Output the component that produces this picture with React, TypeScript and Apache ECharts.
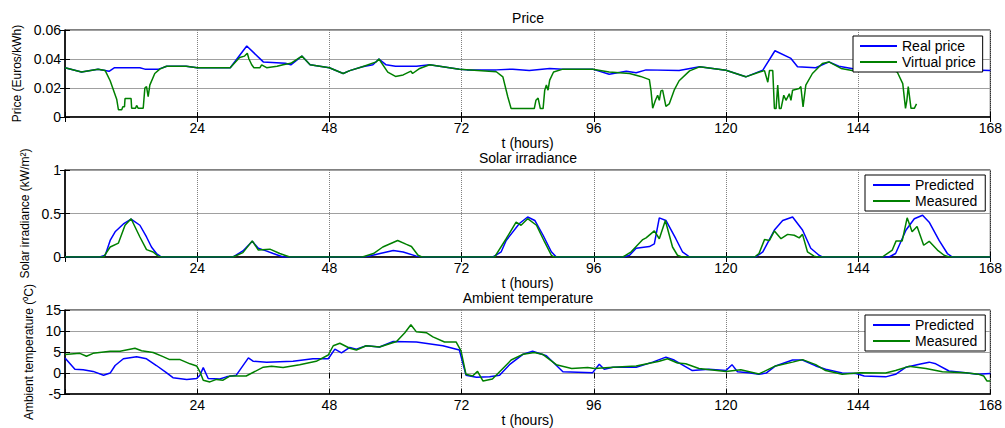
import React, { useEffect, useRef } from 'react';
import * as echarts from 'echarts';

const FONT = '"Liberation Sans", Arial, Helvetica, sans-serif';

const hourTicks = [0, 24, 48, 72, 96, 120, 144, 168];
const panelTitles = ['Price', 'Solar irradiance', 'Ambient temperature'];
const yNames = ['Price (Euros/kWh)', 'Solar irradiance (kW/m\u00b2)', 'Ambient temperature (\u2070C)'];
const yRanges = [[0, 0.06, 0.02], [0, 1, 0.5], [-5, 15, 5]];
const legend1 = ['Real price', 'Virtual price'];
const legend2 = ['Predicted', 'Measured'];

const priceReal = [[0,0.034],[3,0.031],[6,0.033],[8,0.0315],[9,0.034],[13.6,0.034],[14.5,0.033],[17,0.033],[18.5,0.035],[22,0.035],[24,0.034],[30,0.034],[33,0.049],[36,0.038],[40,0.037],[41,0.036],[43,0.042],[44.5,0.036],[48,0.034],[50.5,0.030],[51.7,0.032],[54,0.0346],[55.9,0.036],[57,0.040],[58.3,0.036],[60,0.035],[63.8,0.035],[66.2,0.036],[71.6,0.033],[73,0.0325],[78.3,0.0325],[81.3,0.033],[84.3,0.032],[88,0.0335],[90.4,0.033],[95.8,0.033],[98.8,0.0295],[101.9,0.0316],[103.7,0.0305],[105.5,0.0325],[111.5,0.032],[115.2,0.0346],[120,0.0323],[123.6,0.0277],[126.7,0.0323],[128.9,0.0457],[131.8,0.0404],[133,0.0346],[136.3,0.034],[138.7,0.038],[140.5,0.035],[143.6,0.033],[150,0.033],[160,0.033],[168,0.032]];

const priceVirtual = [[0,0.034],[3,0.031],[6,0.033],[7.3,0.032],[8.2,0.025],[9.4,0.012],[9.7,0.005],[10.3,0.005],[10.5,0.007],[10.8,0.007],[10.9,0.0127],[12,0.0127],[12.1,0.006],[12.8,0.006],[13,0.008],[13.3,0.006],[14.2,0.006],[14.5,0.020],[14.8,0.021],[15.1,0.014],[15.4,0.022],[16.3,0.030],[17.2,0.033],[18.4,0.035],[22,0.035],[24,0.034],[30,0.034],[31.7,0.041],[32.6,0.042],[33.1,0.044],[33.4,0.040],[33.9,0.036],[34.3,0.034],[35.4,0.034],[35.7,0.036],[36.6,0.034],[38.5,0.035],[39.6,0.036],[41,0.037],[43,0.042],[44.5,0.036],[48,0.034],[50.5,0.030],[51.7,0.032],[54,0.0346],[56.5,0.038],[57,0.040],[58.6,0.031],[60,0.028],[61.4,0.029],[62.8,0.0316],[63.1,0.030],[64.4,0.0335],[66.2,0.036],[71.6,0.033],[78.3,0.0312],[79.5,0.0277],[80.4,0.0138],[81,0.0058],[85.2,0.0058],[85.5,0.0115],[85.9,0.013],[86.3,0.0058],[86.8,0.0058],[87.1,0.0185],[87.4,0.022],[87.7,0.0185],[88,0.0254],[88.7,0.031],[90.4,0.033],[95.8,0.033],[98.8,0.031],[102.5,0.030],[104.5,0.028],[106.1,0.0258],[106.4,0.018],[106.7,0.006],[107.2,0.0115],[107.6,0.015],[107.9,0.0115],[108.2,0.018],[108.5,0.0185],[108.8,0.013],[109.1,0.0074],[109.7,0.009],[110.6,0.0185],[111.5,0.025],[113.4,0.0318],[115.2,0.0346],[120,0.0323],[123.6,0.0277],[126.1,0.031],[127,0.032],[127.6,0.024],[127.9,0.032],[128.5,0.032],[128.8,0.0058],[129.1,0.0058],[129.4,0.022],[129.7,0.0058],[130,0.0058],[130.5,0.015],[130.9,0.0115],[131.5,0.016],[131.8,0.0115],[132.1,0.0185],[133.3,0.0196],[133.6,0.021],[134,0.007],[134.5,0.022],[135.7,0.030],[137.5,0.0369],[138.7,0.038],[140.9,0.0335],[142.9,0.032],[146,0.033],[150.5,0.032],[151.1,0.031],[152.1,0.023],[152.6,0.006],[152.85,0.0115],[153.1,0.021],[153.6,0.006],[154.2,0.006],[154.6,0.009]];

const solarPredicted = [[0,0],[6.3,0],[7.3,0.02],[8.2,0.19],[9.1,0.29],[10.6,0.38],[12,0.435],[13.6,0.365],[14.8,0.23],[15.7,0.115],[16.6,0.04],[17.5,0],
[30.5,0],[32.3,0.07],[34,0.18],[35.1,0.1],[36.5,0.07],[37.8,0.04],[39.6,0],
[54.1,0],[55.5,0.015],[57.2,0.04],[59.6,0.075],[61.4,0.058],[63.8,0.01],[65,0],
[77.7,0],[79.2,0.06],[80.1,0.19],[82.5,0.385],[84,0.46],[85.3,0.42],[86.8,0.25],[88.3,0.06],[89.2,0],
[101.5,0],[102.5,0.02],[103.7,0.1],[106.1,0.12],[107,0.15],[107.9,0.45],[109.1,0.42],[110.9,0.21],[112.1,0.06],[113.4,0],
[125.4,0],[126.7,0.06],[128.8,0.31],[130.3,0.42],[132.1,0.46],[133.9,0.31],[135.4,0.1],[136.9,0.02],[137.5,0],
[149.6,0],[150.8,0.04],[152.7,0.31],[154.2,0.44],[155.7,0.48],[156.9,0.40],[158.7,0.19],[160.2,0.04],[161.1,0],[168,0]];

const solarMeasured = [[0,0],[7,0],[8.2,0.115],[9.7,0.16],[10.9,0.365],[12,0.44],[13.6,0.23],[14.8,0.085],[16,0.058],[16.9,0.01],[17.5,0],
[30.5,0],[32.3,0.05],[34,0.185],[35.1,0.08],[37.2,0.09],[39,0.04],[40.8,0],
[54,0],[56,0.04],[57.7,0.115],[60.4,0.19],[62,0.145],[62.9,0.12],[64.1,0.02],[64.8,0],
[78,0],[80.1,0.21],[81.9,0.40],[82.8,0.365],[84,0.44],[85.6,0.365],[87.1,0.17],[88.3,0.02],[88.8,0],
[101.3,0],[102.8,0.06],[104.9,0.2],[105.5,0.22],[107,0.3],[107.9,0.21],[109,0.42],[110.3,0.115],[111.2,0.02],[112,0],
[125.2,0],[126,0.04],[127,0.2],[127.9,0.19],[128.8,0.3],[130,0.21],[131.2,0.26],[132.4,0.25],[133.3,0.22],[133.9,0.26],[134.8,0.06],[136,0.01],[136.6,0],
[148.4,0],[150.2,0.08],[150.9,0.185],[152,0.185],[152.9,0.45],[153.8,0.29],[154.7,0.35],[155.9,0.135],[156.9,0.18],[158.4,0.08],[159.6,0.02],[160.5,0],[168,0]];

const tempPredicted = [[0,3.6],[1.8,0.9],[3.3,0.8],[5.1,0.4],[7,-0.5],[8.2,0],[9.1,1.8],[10.6,3.4],[13,3.9],[14.8,3.4],[16.6,1.8],[18.4,0.1],[19.6,-1.1],[22.1,-1.5],[23.9,-1.3],[24.5,-0.5],[25.1,1.3],[26,-1.3],[28.1,-1.4],[29.3,-0.9],[31.1,-0.5],[33.3,3.6],[34.2,2.8],[36.6,2.6],[41.4,2.8],[45,3.4],[47.8,3.4],[49,5.7],[50.2,4.8],[51.7,6.1],[52.9,5.7],[54.7,6.5],[57.1,6.2],[59.6,7.5],[63.8,7.4],[68.6,6.5],[71.6,5.5],[72.8,-0.5],[74.7,-1.0],[77.1,-0.9],[78.9,-0.5],[80.7,2.0],[83.2,4.5],[84.9,5.2],[87.4,4.1],[90.4,0.3],[95.8,0.1],[97,2.1],[97.9,0.9],[99.5,1.4],[103.7,1.4],[106.7,2.6],[109.1,3.8],[110.6,3.1],[113.9,0.6],[116.9,0.9],[120,0.6],[121.1,2.0],[122.1,0.3],[124.1,0.1],[126,-0.3],[127.3,0],[129,1.7],[132.1,3.1],[133.9,3.1],[136.3,1.7],[138.1,0.9],[141.1,0],[143.6,-0.1],[145.1,-0.7],[149,-0.9],[150.8,-0.3],[152.7,1.4],[155.1,2.1],[156.9,2.6],[158.1,2.2],[160.5,0.5],[163.5,0.1],[165.6,-0.3],[168,-0.1]];

const tempMeasured = [[0,4.4],[2.7,4.7],[3.9,4.0],[5.1,4.7],[8.2,5.2],[10,5.2],[12.7,5.9],[13.9,5.3],[16,4.9],[17.8,3.9],[19,3.2],[20.9,3.2],[22.7,2.2],[23.9,1.7],[24.5,0.3],[25.1,-1.7],[26.3,-2.1],[27.5,-1.5],[28.7,-1.7],[29.9,-0.7],[32.9,-0.7],[36,1.4],[37.5,1.6],[39.6,1.3],[42.6,2.0],[45.6,2.8],[47.8,4.3],[48.7,6.5],[49.9,7.1],[51.7,5.9],[52.9,5.5],[54.7,6.5],[57.1,6.2],[60.2,7.5],[61.7,9.6],[62.8,11.5],[63.8,9.8],[65.6,9.6],[66.8,8.6],[68.9,7.4],[71,7.4],[71.9,5.3],[72.8,-0.3],[74,-0.7],[74.9,0.4],[75.9,-1.9],[77.6,-1.4],[79.5,1.1],[81,3.1],[83.2,4.5],[85.2,4.9],[86.8,4.4],[89.2,2.0],[92,1.1],[94.9,1.3],[96.1,1.1],[99.5,1.4],[103.7,1.7],[107.9,2.8],[109.4,3.4],[111.2,2.4],[112.7,2.2],[115.1,1.1],[120,0.4],[122.7,0.8],[126,-0.2],[129,1.7],[132.1,2.6],[133.9,3.2],[136.3,2.0],[138.1,0.6],[141.1,-0.3],[144.2,0.1],[149,0],[150.8,0.6],[153.2,1.6],[156.3,1.1],[159.3,0.3],[163.5,0.1],[165.9,-0.3],[166.8,-0.7],[167.4,-1.9],[168,-1.9]];

const BLUE = '#0000ff';
const GREEN = '#008000';

function buildOption() {
  const grids = [
    { left: 65, right: 14, top: 30, height: 87 },
    { left: 65, right: 14, top: 170, height: 87 },
    { left: 65, right: 14, top: 310, height: 86 },
  ].map((g) => ({ ...g, show: true, borderColor: '#000', borderWidth: 1, backgroundColor: '#fff' }));

  const xAxis: any[] = [];
  const yAxis: any[] = [];
  const yGaps = [40, 32, 28];
  for (let i = 0; i < 3; i++) {
    xAxis.push({
      type: 'value', gridIndex: i, min: hourTicks[0], max: hourTicks[hourTicks.length - 1], interval: 24,
      position: 'bottom',
      axisLine: { show: true, onZero: false, lineStyle: { color: '#000', width: 1.5 } },
      axisTick: { show: true, inside: true, length: 5, lineStyle: { color: '#000' } },
      axisLabel: { color: '#000', fontSize: 14, fontFamily: FONT, margin: 4,
        formatter: (v: number) => (v === 0 ? '' : String(v)) },
      splitLine: { show: true, lineStyle: { color: '#808080', type: 'dotted', width: 1 } },
      name: 't (hours)', nameLocation: 'middle', nameGap: 18,
      nameTextStyle: { color: '#000', fontSize: 14, fontFamily: FONT },
    });
    xAxis.push({
      type: 'value', gridIndex: i, min: 0, max: 168, interval: 24, position: 'top',
      axisLine: { show: false },
      axisTick: { show: true, inside: true, length: 5, lineStyle: { color: '#000' } },
      axisLabel: { show: false }, splitLine: { show: false },
    });
    const [mn, mx, iv] = yRanges[i];
    yAxis.push({
      type: 'value', gridIndex: i, min: mn, max: mx, interval: iv, position: 'left',
      axisLine: { show: true, onZero: false, lineStyle: { color: '#000', width: 1.5 } },
      axisTick: { show: true, inside: true, length: 5, lineStyle: { color: '#000' } },
      axisLabel: { color: '#000', fontSize: 14, fontFamily: FONT, margin: 4 },
      splitLine: { show: true, lineStyle: { color: '#a0a0a0', width: 1 } },
      name: yNames[i], nameLocation: 'middle', nameGap: yGaps[i], nameRotate: 90,
      nameTextStyle: { color: '#000', fontSize: 12, fontFamily: FONT },
    });
    yAxis.push({
      type: 'value', gridIndex: i, min: mn, max: mx, interval: iv, position: 'right',
      axisLine: { show: false },
      axisTick: { show: true, inside: true, length: 5, lineStyle: { color: '#000' } },
      axisLabel: { show: false }, splitLine: { show: false },
    });
  }

  const line = (name: string, data: number[][], color: string, i: number) => ({
    type: 'line', name, data, xAxisIndex: i * 2, yAxisIndex: i * 2,
    showSymbol: false, symbol: 'none', color,
    lineStyle: { color, width: 1.5 }, z: 3,
  });

  const series = [
    line(legend1[0], priceReal, BLUE, 0),
    line(legend1[1], priceVirtual, GREEN, 0),
    line(legend2[0], solarPredicted, BLUE, 1),
    line(legend2[1], solarMeasured, GREEN, 1),
    line(legend2[0], tempPredicted, BLUE, 2),
    line(legend2[1], tempMeasured, GREEN, 2),
  ];

  const legendBase = {
    orient: 'vertical', itemWidth: 37, itemHeight: 2, icon: 'rect', itemGap: 2,
    borderColor: '#000', borderWidth: 1, backgroundColor: '#fff',
    textStyle: { color: '#000', fontSize: 14, fontFamily: FONT },
    selectedMode: false, z: 10,
  };
  const legend = [
    { ...legendBase, data: legend1, left: 853, top: 36, padding: [3, 7, 3, 7] },
    { ...legendBase, data: legend2, left: 865, top: 175, padding: [3, 8, 3, 8] },
    { ...legendBase, data: legend2, left: 865, top: 315, padding: [3, 8, 3, 8] },
  ];

  const titleY = [17.5, 157.5, 298];
  const graphic = panelTitles.map((t, i) => ({
    type: 'text', x: 528, y: titleY[i], z: 20,
    style: { text: t, align: 'center', verticalAlign: 'middle', fontSize: 14, fontFamily: FONT, fill: '#000' },
  }));

  return { animation: false, backgroundColor: '#fff', grid: grids, xAxis, yAxis, series, legend, graphic };
}

export default function App() {
  const ref = useRef<HTMLDivElement>(null);
  useEffect(() => {
    document.body.style.margin = '0';
    if (!ref.current) return;
    const chart = echarts.init(ref.current, undefined, { renderer: 'svg' });
    chart.setOption(buildOption() as any);
    return () => chart.dispose();
  }, []);
  return <div ref={ref} style={{ width: 1005, height: 428 }} />;
}
